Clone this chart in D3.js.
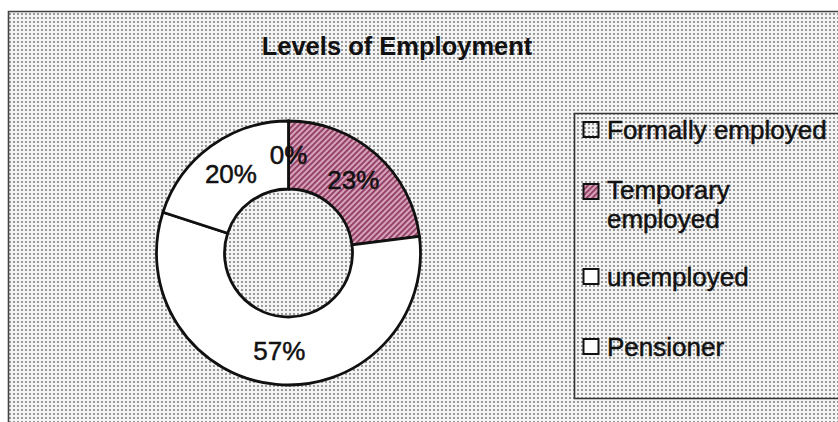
<!DOCTYPE html>
<html>
<head>
<meta charset="utf-8">
<script src="https://cdn.jsdelivr.net/npm/d3@7"></script>
<style>
  body { margin: 0; background: #fff; }
  text { font-family: 'Liberation Sans', Arial, sans-serif; fill: #111; }
</style>
</head>
<body>
<script>
'use strict';

const width = 838;
const height = 422;

const categories = ['Formally employed', 'Temporary employed', 'unemployed', 'Pensioner'];
const values = [0, 23, 57, 20];
const sliceLabels = ['0%', '23%', '57%', '20%'];
// legend text lines (Temporary wraps onto two lines)
const legendLines = [['Formally employed'], ['Temporary', 'employed'], ['unemployed'], ['Pensioner']];
const legendY = [130, 206, 277, 347];

const cx = 288.5;
const cy = 253;
const outerR = 132;
const innerR = 64;

const svg = d3.select('body')
  .append('svg')
  .attr('width', width)
  .attr('height', height);

const defs = svg.append('defs');

// dotted scan-like background
const dots = defs.append('pattern')
  .attr('id', 'dots')
  .attr('width', 4)
  .attr('height', 4)
  .attr('patternUnits', 'userSpaceOnUse');
dots.append('rect').attr('width', 4).attr('height', 4).attr('fill', '#f4f4f4');
dots.append('circle').attr('cx', 2).attr('cy', 2).attr('r', 0.9).attr('fill', '#6e6e6e');

// hatch for the temporary slice
const hatch = defs.append('pattern')
  .attr('id', 'hatch')
  .attr('width', 4)
  .attr('height', 4)
  .attr('patternUnits', 'userSpaceOnUse')
  .attr('patternTransform', 'rotate(45)');
hatch.append('rect').attr('width', 4).attr('height', 4).attr('fill', '#d8a3ba');
hatch.append('rect').attr('width', 1.8).attr('height', 4).attr('fill', '#8e3a60');

const fills = ['url(#dots)', 'url(#hatch)', '#fff', '#fff'];

// chart area with outer frame (cut off at right/bottom)
svg.append('rect')
  .attr('x', 8)
  .attr('y', 11)
  .attr('width', width - 8)
  .attr('height', height - 11)
  .attr('fill', 'url(#dots)');

svg.append('path')
  .attr('d', `M8.5,${height} V11.5 H${width}`)
  .attr('fill', 'none')
  .attr('stroke', '#444')
  .attr('stroke-width', 1.6);

svg.append('text')
  .attr('x', 397)
  .attr('y', 55)
  .attr('text-anchor', 'middle')
  .attr('font-size', '25.5px')
  .attr('font-weight', 'bold')
  .text('Levels of Employment');

// donut
const pie = d3.pie().sort(null).value((d) => d);
const arcs = pie(values);
const arc = d3.arc().innerRadius(innerR).outerRadius(outerR);
const labelArc = d3.arc().innerRadius((innerR + outerR) / 2).outerRadius((innerR + outerR) / 2);

const g = svg.append('g')
  .attr('transform', `translate(${cx}, ${cy})`);

g.selectAll('path.slice')
  .data(arcs)
  .enter()
  .append('path')
  .attr('class', 'slice')
  .attr('d', arc)
  .attr('fill', (d, i) => fills[i])
  .attr('stroke', '#111')
  .attr('stroke-width', 2.8)
  .attr('stroke-linejoin', 'round');

g.selectAll('text.label')
  .data(arcs)
  .enter()
  .append('text')
  .attr('class', 'label')
  .attr('x', (d) => labelArc.centroid(d)[0])
  .attr('y', (d) => labelArc.centroid(d)[1])
  .attr('dy', '0.36em')
  .attr('text-anchor', 'middle')
  .attr('font-size', '26px')
  .attr('stroke', '#111')
  .attr('stroke-width', 0.5)
  .text((d, i) => sliceLabels[i]);

// legend
const legend = svg.append('g');

legend.append('path')
  .attr('d', `M${width},113.5 H574.5 V398.5 H${width}`)
  .attr('fill', 'none')
  .attr('stroke', '#333')
  .attr('stroke-width', 1.6);

const items = legend.selectAll('g.item')
  .data(categories)
  .enter()
  .append('g')
  .attr('class', 'item')
  .attr('transform', (d, i) => `translate(583, ${legendY[i]})`);

items.append('rect')
  .attr('x', 0.5)
  .attr('y', (d, i) => legendLines[i].length > 1 ? -22 : -8)
  .attr('width', 15)
  .attr('height', 15)
  .attr('fill', (d, i) => fills[i])
  .attr('stroke', '#111')
  .attr('stroke-width', 2);

items.each(function(d, i) {
  const lines = legendLines[i];
  const t = d3.select(this).append('text')
    .attr('x', 24)
    .attr('y', lines.length > 1 ? -7 : 9)
    .attr('font-size', '26px')
    .attr('stroke', '#111')
    .attr('stroke-width', 0.5);
  lines.forEach((line, j) => {
    t.append('tspan')
      .attr('x', 24)
      .attr('dy', j === 0 ? 0 : 29)
      .text(line);
  });
});
</script>
</body>
</html>
